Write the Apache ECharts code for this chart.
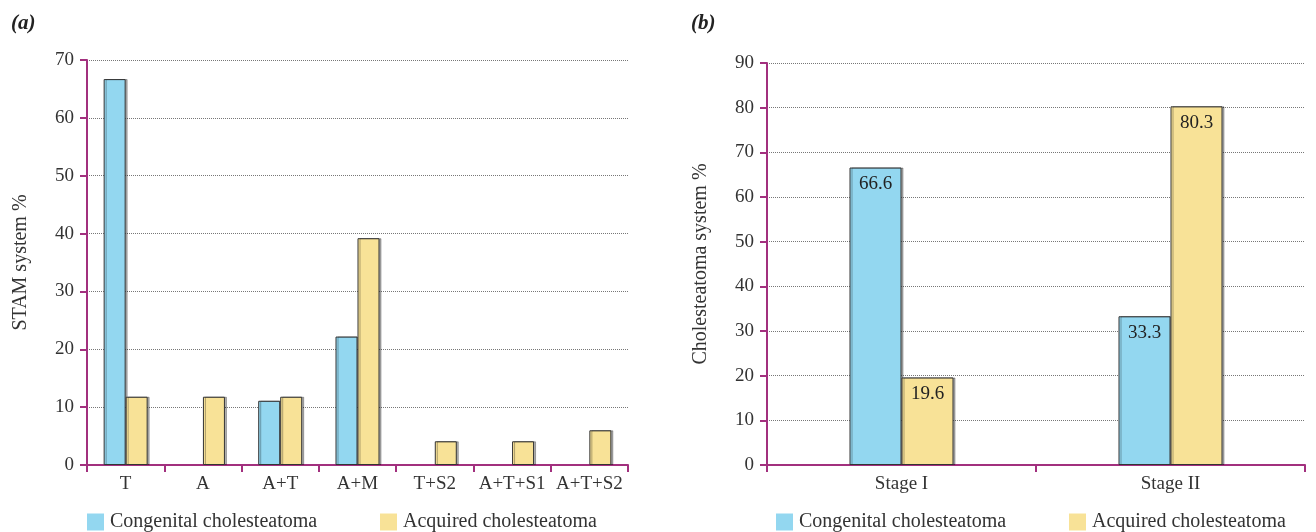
<!DOCTYPE html>
<html>
<head>
<meta charset="utf-8">
<script src="https://cdn.jsdelivr.net/npm/echarts@6/dist/echarts.min.js"></script>
<style>
  html, body { margin: 0; padding: 0; background: #fff; }
  #chart { width: 1316px; height: 532px; }
</style>
</head>
<body>
<div id="chart"></div>
<script>
// panel (a): STAM system
const stamCategories = ['T', 'A', 'A+T', 'A+M', 'T+S2', 'A+T+S1', 'A+T+S2'];
const stamCongenital = [66.7, null, 11.1, 22.2, null, null, null];
const stamAcquired = [11.8, 11.8, 11.8, 39.2, 4.1, 4.1, 6.0];

// panel (b): cholesteatoma staging
const stageCategories = ['Stage I', 'Stage II'];
const stageCongenital = [66.6, 33.3];
const stageAcquired = [19.6, 80.3];

const nameCongenital = 'Congenital cholesteatoma';
const nameAcquired = 'Acquired cholesteatoma';

const FONT = 'Liberation Serif';
const AXIS_COLOR = '#a2307e';
const BLUE = '#93d7f0';
const YELLOW = '#f8e297';

const chart = echarts.init(document.getElementById('chart'));

function yAxis(gridIndex, max, name) {
  return {
    type: 'value', gridIndex, min: 0, max, interval: 10,
    name, nameLocation: 'middle', nameGap: 56, nameRotate: 90,
    nameTextStyle: { fontFamily: FONT, fontSize: 20, color: '#333' },
    axisLine: { show: true, lineStyle: { color: AXIS_COLOR, width: 2 } },
    axisTick: { show: true, length: 7, lineStyle: { color: AXIS_COLOR, width: 2 } },
    axisLabel: { fontFamily: FONT, fontSize: 19, color: '#333', margin: 13 },
    splitLine: { show: true, lineStyle: { color: '#777', type: [1, 1], width: 1 } }
  };
}

function xAxis(gridIndex, data) {
  return {
    type: 'category', gridIndex, data,
    axisLine: { show: true, lineStyle: { color: AXIS_COLOR, width: 2 } },
    axisTick: { show: true, length: 7, lineStyle: { color: AXIS_COLOR, width: 2 } },
    axisLabel: { fontFamily: FONT, fontSize: 19, color: '#333', margin: 10, interval: 0 }
  };
}

function barItem(color) {
  return {
    color, borderColor: '#333', borderWidth: 1,
    shadowColor: 'rgba(0,0,0,0.3)', shadowOffsetX: 2, shadowBlur: 0
  };
}

const stageLabel = {
  show: true, position: 'insideTop', distance: 7,
  fontFamily: FONT, fontSize: 19, color: '#222'
};

function legend(left, name) {
  return {
    left, top: 512, padding: 0, icon: 'rect',
    itemWidth: 17, itemHeight: 17, itemGap: 0,
    data: [name], selectedMode: false,
    itemStyle: { borderWidth: 0, shadowColor: 'transparent' },
    textStyle: { fontFamily: FONT, fontSize: 20, color: '#333', padding: [0, 0, 0, 1] }
  };
}

const option = {
  animation: false,
  title: [
    { text: '(a)', left: 6, top: 8, textStyle: { fontFamily: FONT, fontSize: 21, fontWeight: 'bold', fontStyle: 'italic', color: '#222' } },
    { text: '(b)', left: 686, top: 8, textStyle: { fontFamily: FONT, fontSize: 21, fontWeight: 'bold', fontStyle: 'italic', color: '#222' } }
  ],
  legend: [
    legend(87, nameCongenital),
    legend(380, nameAcquired),
    legend(776, nameCongenital),
    legend(1069, nameAcquired)
  ],
  grid: [
    { left: 87, top: 60, width: 541, bottom: 67 },
    { left: 767, top: 63, right: 11, bottom: 67 }
  ],
  xAxis: [xAxis(0, stamCategories), xAxis(1, stageCategories)],
  yAxis: [yAxis(0, 70, 'STAM system %'), yAxis(1, 90, 'Cholesteatoma system %')],
  series: [
    { name: nameCongenital, type: 'bar', xAxisIndex: 0, yAxisIndex: 0, data: stamCongenital,
      barWidth: 22, barGap: '0%', itemStyle: barItem(BLUE) },
    { name: nameAcquired, type: 'bar', xAxisIndex: 0, yAxisIndex: 0, data: stamAcquired,
      barWidth: 22, barGap: '0%', itemStyle: barItem(YELLOW) },
    { name: nameCongenital, type: 'bar', xAxisIndex: 1, yAxisIndex: 1, data: stageCongenital,
      barWidth: 52, barGap: '0%', itemStyle: barItem(BLUE), label: stageLabel },
    { name: nameAcquired, type: 'bar', xAxisIndex: 1, yAxisIndex: 1, data: stageAcquired,
      barWidth: 52, barGap: '0%', itemStyle: barItem(YELLOW), label: stageLabel }
  ]
};

chart.setOption(option);
</script>
</body>
</html>
